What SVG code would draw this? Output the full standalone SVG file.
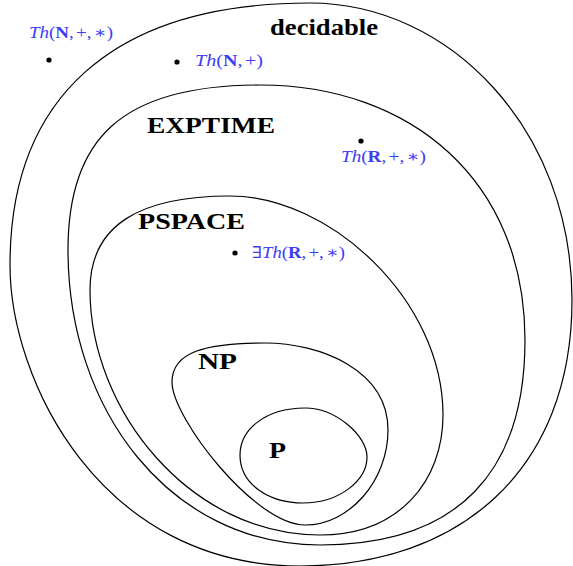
<svg xmlns="http://www.w3.org/2000/svg" width="573" height="566" viewBox="0 0 573 566">
  <style>
    .set { fill: none; stroke: #000; stroke-width: 1.2; }
    .cls { font-family: "Liberation Serif", "Times New Roman", serif; font-weight: bold; font-size: 24px; fill: #000; }
    .thy { font-family: "Liberation Serif", "DejaVu Serif", serif; font-size: 16px; fill: #3c3cf5; }
    .it { font-style: italic; }
    .bf { font-weight: bold; }
    .dot { fill: #000; }
  </style>
  <rect width="573" height="566" fill="#fff"/>
  <g id="decidable">
    <path class="set" d="M310,3 C110,3 10,100 10,265 C10,380 100,566 300,566 C460,566 572,470 572,300 C572,130 450,3 310,3 Z"/>
    <text class="cls" x="270" y="35" textLength="108" lengthAdjust="spacingAndGlyphs">decidable</text>
  </g>
  <g id="exptime">
    <path class="set" d="M260,85 C120,85 68,140 68,250 C68,410 170,545 320,545 C460,545 525,470 525,340 C525,180 410,85 260,85 Z"/>
    <text class="cls" x="147" y="133" textLength="128" lengthAdjust="spacingAndGlyphs">EXPTIME</text>
  </g>
  <g id="pspace">
    <path class="set" d="M230,196 C140,196 90,225 90,290 C90,410 190,535 320,535 C400,535 443,480 443,415 C443,300 330,196 230,196 Z"/>
    <text class="cls" x="138" y="229" textLength="107" lengthAdjust="spacingAndGlyphs">PSPACE</text>
  </g>
  <g id="np">
    <path class="set" d="M265,343 C205,343 172,352 172,382 C172,418 255,525 305,525 C350,525 388,480 388,430 C388,370 320,343 265,343 Z"/>
    <text class="cls" x="198" y="369" textLength="39" lengthAdjust="spacingAndGlyphs">NP</text>
  </g>
  <g id="p">
    <path class="set" d="M305,408 C265,408 240,430 240,455 C240,485 270,503 303,503 C340,503 367,480 367,457 C367,435 335,408 305,408 Z"/>
    <text class="cls" x="269" y="458" textLength="17" lengthAdjust="spacingAndGlyphs">P</text>
  </g>
  <g id="th-n-plus-times">
    <circle class="dot" cx="49" cy="60" r="2.6"/>
    <text class="thy" x="29" y="38" textLength="84" lengthAdjust="spacingAndGlyphs"><tspan class="it">Th</tspan>(<tspan class="bf">N</tspan>,<tspan font-size="8"> </tspan>+,<tspan font-size="8"> </tspan>∗)</text>
  </g>
  <g id="th-n-plus">
    <circle class="dot" cx="177" cy="62" r="2.6"/>
    <text class="thy" x="195" y="66" textLength="68" lengthAdjust="spacingAndGlyphs"><tspan class="it">Th</tspan>(<tspan class="bf">N</tspan>,<tspan font-size="8"> </tspan>+)</text>
  </g>
  <g id="th-r-plus-times">
    <circle class="dot" cx="361" cy="141" r="2.6"/>
    <text class="thy" x="341" y="162" textLength="85" lengthAdjust="spacingAndGlyphs"><tspan class="it">Th</tspan>(<tspan class="bf">R</tspan>,<tspan font-size="8"> </tspan>+,<tspan font-size="8"> </tspan>∗)</text>
  </g>
  <g id="ex-th-r-plus-times">
    <circle class="dot" cx="235" cy="253" r="2.6"/>
    <text class="thy" x="252" y="258" textLength="93" lengthAdjust="spacingAndGlyphs">∃<tspan class="it">Th</tspan>(<tspan class="bf">R</tspan>,<tspan font-size="8"> </tspan>+,<tspan font-size="8"> </tspan>∗)</text>
  </g>
  <g id="connectors"/>
</svg>
